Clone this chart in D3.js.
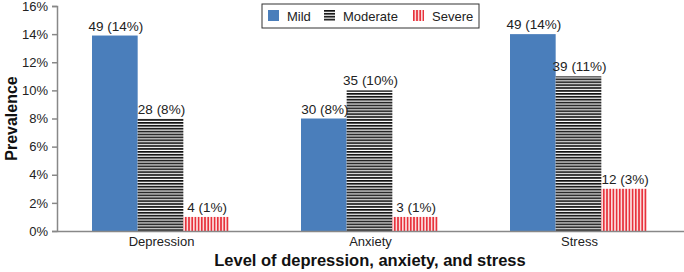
<!DOCTYPE html>
<html>
<head>
<meta charset="utf-8">
<script src="https://cdn.jsdelivr.net/npm/d3@7"></script>
<style>
  body { margin: 0; background: #fff; }
  svg text { font-family: "Liberation Sans", Arial, sans-serif; }
</style>
</head>
<body>
<svg id="chart" width="684" height="272"></svg>
<script>
// data
var categories = ["Depression", "Anxiety", "Stress"];
var seriesNames = ["Mild", "Moderate", "Severe"];
var mild = [13.9, 8, 14];
var moderate = [8, 10, 11];
var severe = [1, 1, 3];
var labels = [
  ["49 (14%)", "28 (8%)", "4 (1%)"],
  ["30 (8%)", "35 (10%)", "3 (1%)"],
  ["49 (14%)", "39 (11%)", "12 (3%)"]
];
var yTicks = [0, 2, 4, 6, 8, 10, 12, 14, 16];

var svg = d3.select("#chart"),
  margin = {top: 6, right: 0, bottom: 41, left: 57},
  width = +svg.attr("width") - margin.left - margin.right,
  height = +svg.attr("height") - margin.top - margin.bottom,
  g = svg.append("g").attr("transform", "translate(" + margin.left + "," + margin.top + ")");

// patterns
var defs = svg.append("defs");
var pH = defs.append("pattern").attr("id", "pat-moderate")
  .attr("patternUnits", "userSpaceOnUse").attr("width", 6).attr("height", 2.9);
pH.append("rect").attr("width", 6).attr("height", 2.9).attr("fill", "#fff");
pH.append("rect").attr("y", 0).attr("width", 6).attr("height", 1.7).attr("fill", "#111");

var pV = defs.append("pattern").attr("id", "pat-severe")
  .attr("patternUnits", "userSpaceOnUse").attr("width", 3.2).attr("height", 6);
pV.append("rect").attr("width", 3.2).attr("height", 6).attr("fill", "#fbdcdc");
pV.append("rect").attr("x", 0).attr("width", 1.6).attr("height", 6).attr("fill", "#e8323c");

var fills = ["#4a7ebb", "url(#pat-moderate)", "url(#pat-severe)"];

var x0 = d3.scaleBand().domain(categories).range([0, width]).paddingInner(0).paddingOuter(0);
var x1 = d3.scaleBand().domain(seriesNames).range([35, x0.bandwidth() - 37]).padding(0);
var y = d3.scaleLinear().domain([0, 16]).range([height, 0]);

var data = categories.map(function(c, i) {
  return {cat: c, values: [mild[i], moderate[i], severe[i]], labels: labels[i]};
});

// y axis
var yAxis = g.append("g")
  .call(d3.axisLeft(y).tickValues(yTicks).tickSize(5).tickPadding(4).tickFormat(function(d) { return d + "%"; }));
yAxis.select(".domain").attr("stroke", "#888").attr("stroke-width", 1.5);
yAxis.selectAll(".tick line").attr("stroke", "#888").attr("stroke-width", 1.5);
yAxis.selectAll(".tick text").attr("font-size", 13).attr("fill", "#222");

// bars
var groups = g.selectAll(".grp").data(data).enter().append("g")
  .attr("transform", function(d) { return "translate(" + x0(d.cat) + ",0)"; });

groups.selectAll("rect")
  .data(function(d) { return d.values.map(function(v, j) { return {key: seriesNames[j], value: v, j: j, label: d.labels[j]}; }); })
  .enter().append("rect")
  .attr("x", function(d) { return x1(d.key); })
  .attr("y", function(d) { return y(d.value); })
  .attr("width", x1.bandwidth())
  .attr("height", function(d) { return y(0) - y(d.value); })
  .attr("fill", function(d) { return fills[d.j]; });

groups.selectAll("text")
  .data(function(d) { return d.values.map(function(v, j) { return {key: seriesNames[j], value: v, label: d.labels[j]}; }); })
  .enter().append("text")
  .attr("x", function(d) { return x1(d.key) + x1.bandwidth() / 2 + 1; })
  .attr("y", function(d) { return y(d.value) - 5; })
  .attr("text-anchor", "middle")
  .attr("font-size", 13.5)
  .attr("fill", "#222")
  .text(function(d) { return d.label; });

// x axis
var xAxis = g.append("g")
  .attr("transform", "translate(0," + height + ")")
  .call(d3.axisBottom(x0).tickSize(0).tickPadding(6));
xAxis.select(".domain").attr("stroke", "#888").attr("stroke-width", 1.5);
xAxis.selectAll(".tick text").attr("font-size", 13).attr("fill", "#222");

// axis titles
svg.append("text")
  .attr("transform", "translate(17," + (margin.top + height / 2) + ") rotate(-90)")
  .attr("text-anchor", "middle")
  .attr("font-size", 16).attr("font-weight", "bold").attr("fill", "#111")
  .text("Prevalence");

svg.append("text")
  .attr("x", 370).attr("y", 266)
  .attr("text-anchor", "middle")
  .attr("font-size", 16.5).attr("font-weight", "bold").attr("fill", "#111")
  .text("Level of depression, anxiety, and stress");

// legend
var legend = svg.append("g").attr("transform", "translate(262,4)");
legend.append("rect").attr("width", 217).attr("height", 24)
  .attr("fill", "#fff").attr("stroke", "#333").attr("stroke-width", 1);
var legX = [6, 62, 151];
var items = legend.selectAll(".item").data(seriesNames).enter().append("g")
  .attr("transform", function(d, i) { return "translate(" + legX[i] + ",6)"; });
items.append("rect").attr("width", 11).attr("height", 11)
  .attr("fill", function(d, i) { return fills[i]; });
items.append("text").attr("x", 19).attr("y", 10.5)
  .attr("font-size", 13).attr("fill", "#222")
  .text(function(d) { return d; });
</script>
</body>
</html>
